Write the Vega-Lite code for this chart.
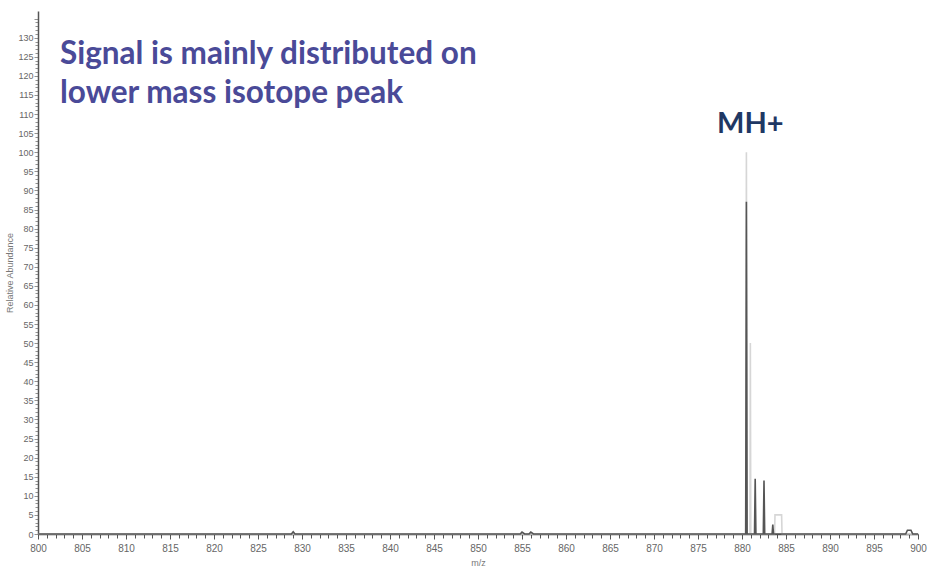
{
  "$schema": "https://vega.github.io/schema/vega-lite/v6.json",
  "autosize": "none",
  "width": 880,
  "height": 523,
  "padding": {"left": 38, "top": 11, "right": 10, "bottom": 34},
  "background": "white",
  "config": {"view": {"stroke": null}},
  "layer": [
    {
      "data": {"values": [
        {"mz": 800, "ab": 0, "s": "light"},
        {"mz": 880.42, "ab": 0, "s": "light"},
        {"mz": 880.5, "ab": 100, "s": "light"},
        {"mz": 880.58, "ab": 0, "s": "light"},
        {"mz": 880.9, "ab": 0, "s": "light"},
        {"mz": 880.95, "ab": 50, "s": "light"},
        {"mz": 881.0, "ab": 0, "s": "light"},
        {"mz": 883.7, "ab": 0, "s": "light"},
        {"mz": 883.75, "ab": 5, "s": "light"},
        {"mz": 884.5, "ab": 5, "s": "light"},
        {"mz": 884.55, "ab": 0, "s": "light"},
        {"mz": 900, "ab": 0, "s": "light"},
        {"mz": 800, "ab": 0, "s": "dark"},
        {"mz": 828.8, "ab": 0, "s": "dark"},
        {"mz": 829.0, "ab": 0.6, "s": "dark"},
        {"mz": 829.2, "ab": 0, "s": "dark"},
        {"mz": 854.8, "ab": 0, "s": "dark"},
        {"mz": 855.0, "ab": 0.5, "s": "dark"},
        {"mz": 855.3, "ab": 0, "s": "dark"},
        {"mz": 855.8, "ab": 0, "s": "dark"},
        {"mz": 856.0, "ab": 0.5, "s": "dark"},
        {"mz": 856.3, "ab": 0, "s": "dark"},
        {"mz": 880.42, "ab": 0, "s": "dark"},
        {"mz": 880.5, "ab": 87, "s": "dark"},
        {"mz": 880.58, "ab": 0, "s": "dark"},
        {"mz": 881.42, "ab": 0, "s": "dark"},
        {"mz": 881.5, "ab": 14.5, "s": "dark"},
        {"mz": 881.58, "ab": 0, "s": "dark"},
        {"mz": 882.42, "ab": 0, "s": "dark"},
        {"mz": 882.5, "ab": 14, "s": "dark"},
        {"mz": 882.58, "ab": 0, "s": "dark"},
        {"mz": 883.42, "ab": 0, "s": "dark"},
        {"mz": 883.5, "ab": 2.5, "s": "dark"},
        {"mz": 883.58, "ab": 0, "s": "dark"},
        {"mz": 898.6, "ab": 0, "s": "dark"},
        {"mz": 898.8, "ab": 1, "s": "dark"},
        {"mz": 899.2, "ab": 1, "s": "dark"},
        {"mz": 899.4, "ab": 0, "s": "dark"},
        {"mz": 900, "ab": 0, "s": "dark"}
      ]},
      "mark": {"type": "line", "strokeWidth": 1.6, "interpolate": "linear"},
      "encoding": {
        "x": {
          "field": "mz", "type": "quantitative",
          "scale": {"domain": [800, 900], "nice": false, "zero": false},
          "axis": {
            "title": "m/z",
            "titleFont": "Liberation Sans",
            "titleFontSize": 9,
            "titleFontWeight": "normal",
            "titleColor": "#777",
            "titlePadding": 5,
            "tickCount": 500,
            "format": "d",
            "values": [800,801,802,803,804,805,806,807,808,809,810,811,812,813,814,815,816,817,818,819,820,821,822,823,824,825,826,827,828,829,830,831,832,833,834,835,836,837,838,839,840,841,842,843,844,845,846,847,848,849,850,851,852,853,854,855,856,857,858,859,860,861,862,863,864,865,866,867,868,869,870,871,872,873,874,875,876,877,878,879,880,881,882,883,884,885,886,887,888,889,890,891,892,893,894,895,896,897,898,899,900],
            "labelExpr": "datum.value % 5 === 0 ? datum.label : ''",
            "labelFont": "Liberation Sans",
            "labelFontSize": 10,
            "labelColor": "#666",
            "labelPadding": 4,
            "labelFlush": false,
            "labelOverlap": false,
            "tickSize": {"expr": "datum.value % 5 === 0 ? 5 : 4"},
            "tickColor": "#555",
            "tickWidth": 1,
            "domainColor": "#444",
            "domainWidth": 1.5,
            "grid": false
          }
        },
        "y": {
          "field": "ab", "type": "quantitative",
          "scale": {"domain": [0, 137], "nice": false},
          "axis": {
            "title": "Relative Abundance",
            "titleFont": "Liberation Sans",
            "titleFontSize": 9,
            "titleFontWeight": "normal",
            "titleColor": "#777",
            "titlePadding": 3,
            "tickCount": 500,
            "format": "d",
            "values": [0,1,2,3,4,5,6,7,8,9,10,11,12,13,14,15,16,17,18,19,20,21,22,23,24,25,26,27,28,29,30,31,32,33,34,35,36,37,38,39,40,41,42,43,44,45,46,47,48,49,50,51,52,53,54,55,56,57,58,59,60,61,62,63,64,65,66,67,68,69,70,71,72,73,74,75,76,77,78,79,80,81,82,83,84,85,86,87,88,89,90,91,92,93,94,95,96,97,98,99,100,101,102,103,104,105,106,107,108,109,110,111,112,113,114,115,116,117,118,119,120,121,122,123,124,125,126,127,128,129,130,131,132,133,134,135],
            "labelExpr": "datum.value % 5 === 0 && datum.value <= 130 ? datum.label : ''",
            "labelFont": "Liberation Sans",
            "labelFontSize": 9,
            "labelColor": "#666",
            "labelPadding": 1,
            "labelOverlap": false,
            "labelFlush": false,
            "tickSize": {"expr": "datum.value % 5 === 0 ? 4 : 3"},
            "tickColor": "#777",
            "tickWidth": 0.8,
            "domainColor": "#555",
            "domainWidth": 1.5,
            "grid": false
          }
        },
        "color": {
          "field": "s", "type": "nominal",
          "scale": {"domain": ["light", "dark"], "range": ["#d6d6d6", "#555555"]},
          "legend": null
        },
        "order": {"field": "mz", "type": "quantitative"}
      }
    },
    {
      "data": {"values": [
        {"mz": 802.5, "ab": 123.2, "label": "Signal is mainly distributed on"},
        {"mz": 802.5, "ab": 112.8, "label": "lower mass isotope peak"}
      ]},
      "mark": {"type": "text", "align": "left", "baseline": "alphabetic", "font": "Lato", "fontWeight": "bold", "fontSize": 31.5, "color": "#4a4a98"},
      "encoding": {
        "x": {"field": "mz", "type": "quantitative"},
        "y": {"field": "ab", "type": "quantitative"},
        "text": {"field": "label"}
      }
    },
    {
      "data": {"values": [
        {"mz": 880.95, "ab": 105, "label": "MH+"}
      ]},
      "mark": {"type": "text", "align": "center", "baseline": "alphabetic", "font": "Lato", "fontWeight": "bold", "fontSize": 29, "color": "#1f3864"},
      "encoding": {
        "x": {"field": "mz", "type": "quantitative"},
        "y": {"field": "ab", "type": "quantitative"},
        "text": {"field": "label"}
      }
    }
  ]
}
